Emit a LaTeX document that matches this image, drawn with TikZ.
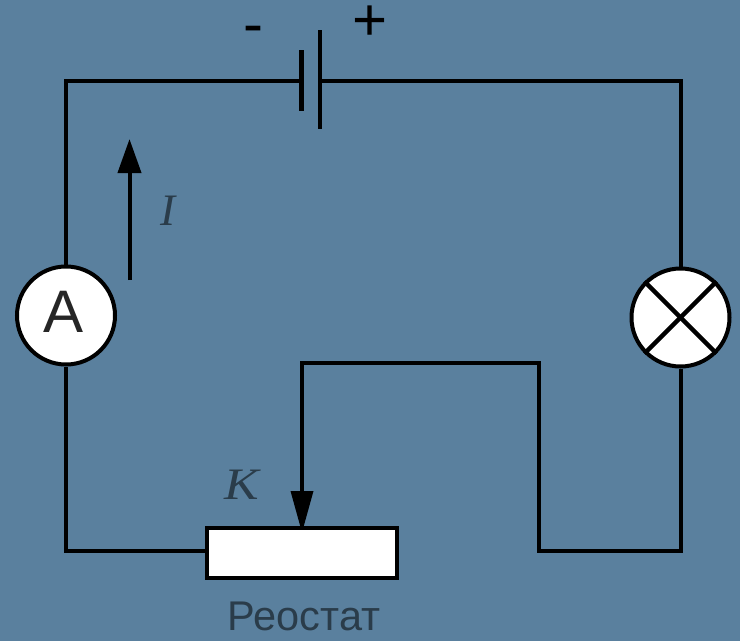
\documentclass[tikz,border=0pt]{standalone}
\usepackage{fontspec}
\setmainfont{Liberation Sans}
\newfontfamily\serifit{Liberation Serif}
\definecolor{bgblue}{HTML}{5A809E}
\definecolor{txtdark}{HTML}{2A3C4A}
\usetikzlibrary{arrows.meta}
\tikzset{
  wire/.style={line width=4pt,black,line join=miter},
  plate/.style={line width=4.5pt,black},
  meter/.style={circle,draw=black,line width=4pt,fill=white,minimum size=98pt,inner sep=0pt},
  rheobox/.style={rectangle,draw=black,line width=4.5pt,fill=white,minimum width=190pt,minimum height=50pt,inner sep=0pt},
  currenthead/.style={-{Triangle[length=34pt,width=23pt]}},
  thinlabel/.style={text=txtdark,inner sep=0pt}
}
\begin{document}
\begin{tikzpicture}[x=1pt,y=-1pt]
\useasboundingbox (0,0) rectangle (740,641);
\fill[bgblue] (0,0) rectangle (740,641);
% junction coordinates
\coordinate (tl) at (66,80.5);
\coordinate (tr) at (680.5,80.5);
\coordinate (bl) at (66,551);
\coordinate (br) at (680.5,551);
\coordinate (bm) at (539,551);
\coordinate (um) at (539,363);
\coordinate (ul) at (302,363);
\coordinate (neg) at (301.5,80.5);
\coordinate (pos) at (320,80.5);
\coordinate (negt) at (301.5,50);
\coordinate (negb) at (301.5,111);
\coordinate (post) at (320,30);
\coordinate (posb) at (320,129);
\coordinate (itop) at (129.5,139);
\coordinate (ibot) at (129.5,280);
% elements
\node[meter] (amm) at (66,315.5) {};
\node[meter] (lamp) at (680.5,317.5) {};
\node[rheobox] (rheo) at (302,553) {};
% wires
\draw[wire] (amm.north) -- (tl) -- (neg);
\draw[wire] (pos) -- (tr) -- (lamp.north);
\draw[wire] (amm.south) -- (bl) -- (rheo.west |- bl);
\draw[wire] (lamp.south) -- (br) -- (bm) -- (um) -- (ul) -- (ul |- rheo.north);
\draw[plate] (negt) -- (negb);
\draw[plate] (post) -- (posb);
% arrowheads
\draw[wire,currenthead] (ibot) -- (itop);
\fill[black] (290.5,491) -- (313.5,491) -- (303.5,527) -- (300.5,527) -- cycle;
% lamp cross
\draw[line width=4.5pt] (lamp.north west) -- (lamp.south east);
\draw[line width=4.5pt] (lamp.north east) -- (lamp.south west);
% text
\node[inner sep=0pt] (a) at (64,312) {\fontsize{60}{60}\selectfont\color{black!85}A};
\node[inner sep=0pt] (minus) at (253.5,35) {\fontsize{60}{60}\selectfont -};
\node[inner sep=0pt] (plus) at (370.5,23) {\fontsize{60}{60}\selectfont +};
\node[thinlabel] (ilab) at (168,211) {\serifit\itshape\fontsize{45}{45}\selectfont I};
\node[thinlabel,xscale=1.15] (klab) at (242,485) {\serifit\itshape\fontsize{45}{45}\selectfont K};
\node[thinlabel] (rlab) at (304,616) {\fontsize{41.5}{41.5}\selectfont Реостат};
\end{tikzpicture}
\end{document}
